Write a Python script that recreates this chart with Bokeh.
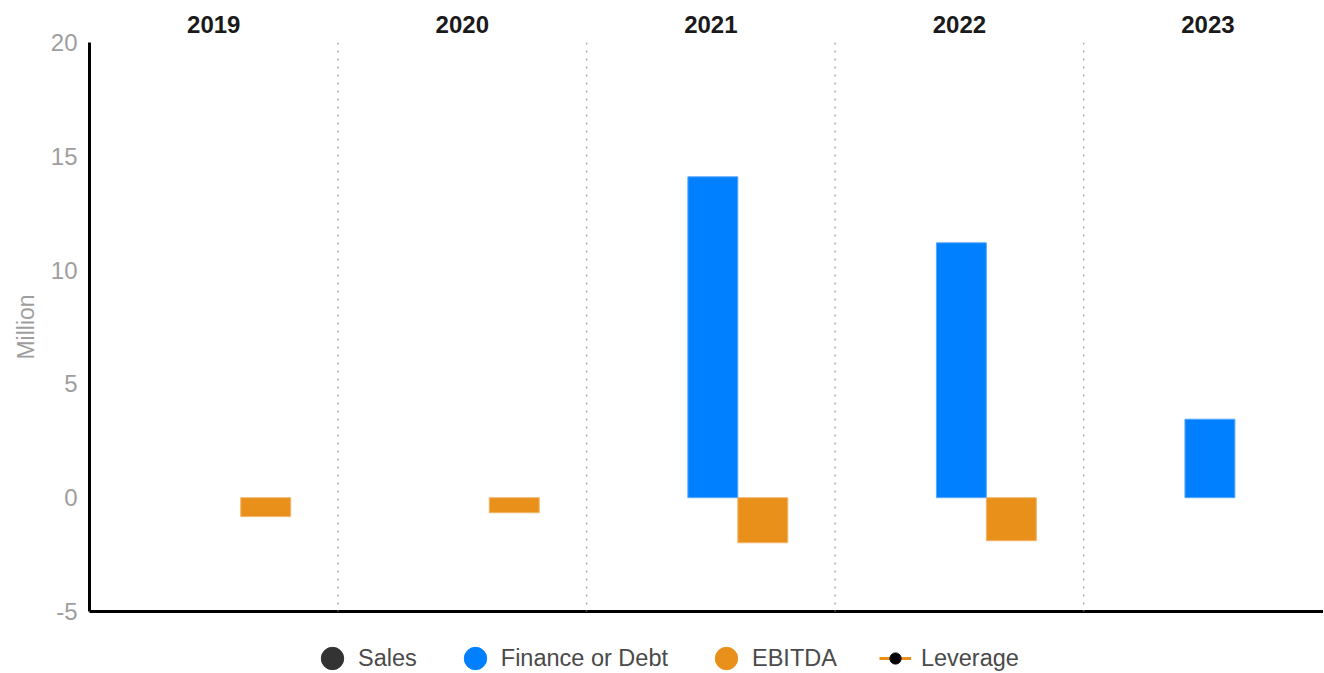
import numpy as np
from bokeh.plotting import figure
from bokeh.layouts import column
from bokeh.models import (ColumnDataSource, Range1d, LinearAxis, FixedTicker,
                          Span, Legend, LegendItem)
from bokeh.embed import file_html
from bokeh.resources import INLINE

nan = np.nan
years = ["2019", "2020", "2021", "2022", "2023"]
sales = [nan, nan, nan, nan, nan]
finance = [nan, nan, 14.1, 11.2, 3.45]
ebitda = [-0.83, -0.66, -1.98, -1.89, nan]
leverage = [nan, nan, nan, nan, nan]
y_ticks = [-5, 0, 5, 10, 15, 20]

C_SALES = "#333333"
C_FIN = "#0080ff"
C_EBITDA = "#e8901a"
FONT = "Liberation Sans"

idx = np.arange(len(years))
centers = idx + 0.5
BW = 0.201
src = ColumnDataSource(dict(
    xs=centers - 0.193, xf=centers + 0.008, xe=centers + 0.209, xc=centers,
    sales=sales, finance=finance, ebitda=ebitda, leverage=leverage,
))

p = figure(width=1323, height=631, output_backend="svg",
           toolbar_location=None, x_range=Range1d(0, 4.965),
           y_range=Range1d(-5, 20), min_border_left=89, min_border_right=0,
           min_border_top=42, min_border_bottom=20)
p.outline_line_color = None
p.grid.visible = False

for k in range(1, len(years)):
    p.add_layout(Span(location=k, dimension="height", line_color="#aaaaaa",
                      line_width=1.5, line_dash="2 6"))

p.vbar(x="xs", top="sales", bottom=0, width=BW, source=src, fill_color=C_SALES,
       line_color=C_SALES)
p.vbar(x="xf", top="finance", bottom=0, width=BW, source=src, fill_color=C_FIN,
       line_color="#5aa8ff", line_width=1)
p.vbar(x="xe", top="ebitda", bottom=0, width=BW, source=src, fill_color=C_EBITDA,
       line_color="#f2b56a", line_width=1)
p.line(x="xc", y="leverage", source=src, line_color=C_EBITDA, line_width=3)
p.scatter(x="xc", y="leverage", source=src, size=8, color="black")

# y axis
ya = p.yaxis[0]
ya.ticker = FixedTicker(ticks=y_ticks)
ya.major_label_overrides = {t: str(t) for t in y_ticks}
ya.major_tick_line_color = None
ya.minor_tick_line_color = None
ya.axis_line_width = 3
ya.axis_line_color = "black"
ya.major_label_text_color = "#9e9e9e"
ya.major_label_text_font = FONT
ya.major_label_text_font_size = "24px"
ya.major_label_standoff = 6
ya.axis_label = "Million"
ya.axis_label_text_font = FONT
ya.axis_label_text_font_style = "normal"
ya.axis_label_text_font_size = "23px"
ya.axis_label_text_color = "#9e9e9e"
ya.axis_label_standoff = 9

# bottom axis: just the line
xa = p.xaxis[0]
xa.ticker = FixedTicker(ticks=[])
xa.axis_line_width = 3
xa.axis_line_color = "black"
xa.major_tick_line_color = None
xa.minor_tick_line_color = None

# top axis: years
ta = LinearAxis(ticker=FixedTicker(ticks=list(centers)),
                major_label_overrides={float(c): y for c, y in zip(centers, years)})
ta.axis_line_color = None
ta.major_tick_line_color = None
ta.minor_tick_line_color = None
ta.major_label_text_font = FONT
ta.major_label_text_font_style = "bold"
ta.major_label_text_font_size = "24px"
ta.major_label_text_color = "#1a1a1a"
ta.major_label_standoff = 4
p.add_layout(ta, "above")

# legend strip
lf = figure(width=1323, height=41, output_backend="svg", toolbar_location=None,
            x_axis_type=None, y_axis_type=None, min_border=0,
            x_range=Range1d(0, 1), y_range=Range1d(0, 1))
lf.outline_line_color = None
lf.grid.visible = False
proxy = ColumnDataSource(dict(x=[nan], y=[nan]))
r_s = lf.ellipse(x="x", y="y", width=22, height=22, width_units="screen",
                 height_units="screen", source=proxy, color=C_SALES)
r_f = lf.ellipse(x="x", y="y", width=22, height=22, width_units="screen",
                 height_units="screen", source=proxy, color=C_FIN)
r_e = lf.ellipse(x="x", y="y", width=22, height=22, width_units="screen",
                 height_units="screen", source=proxy, color=C_EBITDA)
l_line = lf.line(x="xc", y="leverage", source=src, line_color=C_EBITDA, line_width=3)
l_pts = lf.scatter(x="xc", y="leverage", source=src, size=9, color="black")

legend = Legend(items=[
    LegendItem(label="Sales", renderers=[r_s]),
    LegendItem(label="Finance or Debt", renderers=[r_f]),
    LegendItem(label="EBITDA", renderers=[r_e]),
    LegendItem(label="Leverage", renderers=[l_line, l_pts]),
], orientation="horizontal", glyph_width=32, glyph_height=28, label_standoff=10,
   spacing=42, padding=0, margin=0, border_line_color=None, background_fill_alpha=0,
   label_text_font=FONT, label_text_font_size="23.5px", label_text_color="#4a4a4a",
   location=(227, 0))
lf.add_layout(legend, "center")

layout = column(p, lf, spacing=0)
open("out.html", "w").write(file_html(layout, INLINE))
